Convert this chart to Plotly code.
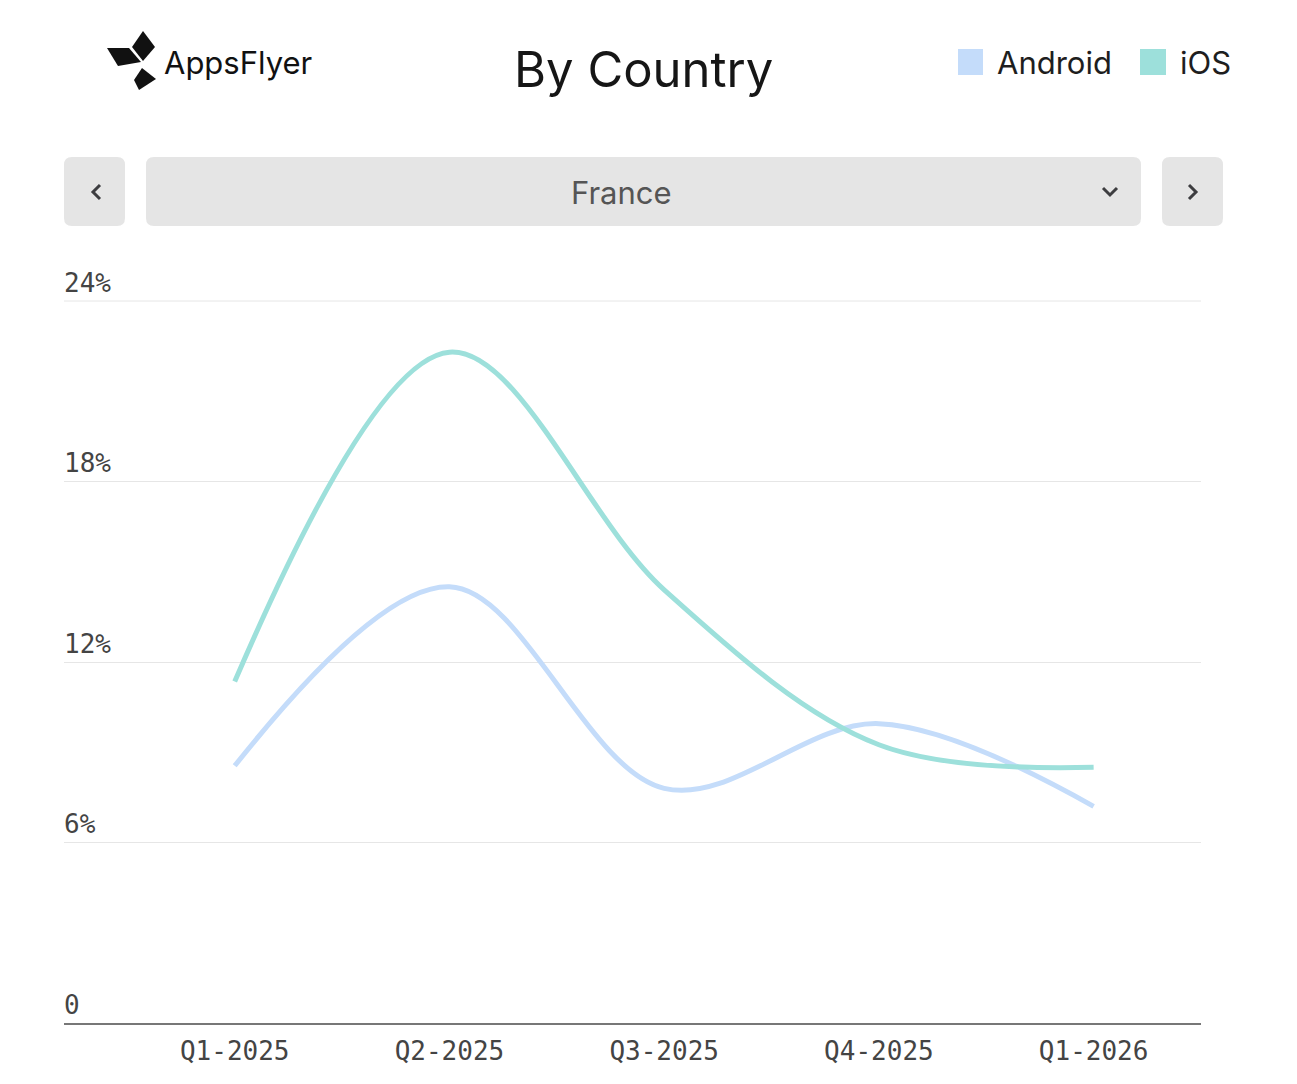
import plotly.graph_objects as go

# ---------------- data ----------------
quarters = ["Q1-2025", "Q2-2025", "Q3-2025", "Q4-2025", "Q1-2026"]
android = [8.55, 14.5, 7.8, 9.95, 7.2]
ios = [11.35, 22.3, 14.4, 9.25, 8.5]
y_tickvals = [0, 6, 12, 18, 24]
y_ticktext = ["0", "6%", "12%", "18%", "24%"]
country = "France"
title_text = "By Country"

ANDROID_COLOR = "#c4dcfa"
IOS_COLOR = "#9de0db"

W, H = 1297, 1084
L, R, T, B = 64, 1201, 300, 1023  # plot area in pixels


def px(x):
    return (x - L) / (R - L)


def py(y):
    return (B - y) / (B - T)


def poly(points):
    s = "M " + " L ".join(f"{px(x):.5f},{py(y):.5f}" for x, y in points) + " Z"
    return s


def rrect(x0, y0, x1, y1, r):
    pts = [
        ("M", x0 + r, y0), ("L", x1 - r, y0), ("Q", x1, y0, x1, y0 + r),
        ("L", x1, y1 - r), ("Q", x1, y1, x1 - r, y1), ("L", x0 + r, y1),
        ("Q", x0, y1, x0, y1 - r), ("L", x0, y0 + r), ("Q", x0, y0, x0 + r, y0),
    ]
    out = []
    for p in pts:
        if p[0] == "Q":
            out.append(f"Q {px(p[1]):.5f},{py(p[2]):.5f} {px(p[3]):.5f},{py(p[4]):.5f}")
        else:
            out.append(f"{p[0]} {px(p[1]):.5f},{py(p[2]):.5f}")
    return " ".join(out) + " Z"


def polyline(points):
    return "M " + " L ".join(f"{px(x):.5f},{py(y):.5f}" for x, y in points)


fig = go.Figure()
fig.add_trace(go.Scatter(
    x=quarters, y=android, name="Android", mode="lines",
    line=dict(color=ANDROID_COLOR, width=5, shape="spline", smoothing=1.0),
    showlegend=False,
))
fig.add_trace(go.Scatter(
    x=quarters, y=ios, name="iOS", mode="lines",
    line=dict(color=IOS_COLOR, width=5, shape="spline", smoothing=1.0),
    showlegend=False,
))

shapes = []
# dropdown row
for (x0, x1) in [(64, 125), (146, 1141), (1162, 1223)]:
    shapes.append(dict(type="path", xref="paper", yref="paper", path=rrect(x0, 157, x1, 226, 8),
                       fillcolor="#e5e5e5", line=dict(width=0), layer="above"))
# chevrons
chev = dict(type="path", xref="paper", yref="paper", line=dict(color="#3d3d40", width=3), layer="above")
shapes.append(dict(chev, path=polyline([(100, 185), (93, 192), (100, 199)])))
shapes.append(dict(chev, path=polyline([(1103, 188), (1110, 195), (1117, 188)])))
shapes.append(dict(chev, path=polyline([(1189, 185), (1196, 192), (1189, 199)])))
# top gridline (24%)
shapes.append(dict(type="line", xref="paper", yref="paper", x0=0, x1=1, y0=py(301), y1=py(301),
                   line=dict(color="#e6e6e6", width=1), layer="below"))
# legend squares
shapes.append(dict(type="rect", xref="paper", yref="paper", x0=px(958), x1=px(983), y0=py(75), y1=py(49),
                   fillcolor=ANDROID_COLOR, line=dict(width=0)))
shapes.append(dict(type="rect", xref="paper", yref="paper", x0=px(1140), x1=px(1166), y0=py(75), y1=py(49),
                   fillcolor=IOS_COLOR, line=dict(width=0)))
# logo mark
logo = dict(type="path", xref="paper", yref="paper", fillcolor="#111111", line=dict(width=0))
shapes.append(dict(logo, path=poly([(143, 31), (155, 47), (143, 61), (132, 47)])))
shapes.append(dict(logo, path=poly([(107, 48), (129, 48), (141, 62), (118, 66)])))
shapes.append(dict(logo, path=poly([(142, 68), (156, 79), (139, 90), (134, 80)])))

annotations = [
    dict(text=title_text, x=px(643), y=py(69), xref="paper", yref="paper", showarrow=False,
         font=dict(family="Inter", size=49, color="#161616"), xanchor="center", yanchor="middle"),
    dict(text="AppsFlyer", x=px(162), y=py(62), xref="paper", yref="paper", showarrow=False,
         font=dict(family="Inter", size=31, color="#111111"), xanchor="left", yanchor="middle"),
    dict(text="Android", x=px(995), y=py(62), xref="paper", yref="paper", showarrow=False,
         font=dict(family="Inter", size=31, color="#1e1e1e"), xanchor="left", yanchor="middle"),
    dict(text="iOS", x=px(1178), y=py(62), xref="paper", yref="paper", showarrow=False,
         font=dict(family="Inter", size=31, color="#1e1e1e"), xanchor="left", yanchor="middle"),
    dict(text=country, x=px(621), y=py(192), xref="paper", yref="paper", showarrow=False,
         font=dict(family="Inter", size=31, color="#555555"), xanchor="center", yanchor="middle"),
]

fig.update_layout(
    width=W, height=H,
    margin=dict(l=L, r=W - R, t=T, b=H - B, autoexpand=False),
    paper_bgcolor="white", plot_bgcolor="white",
    shapes=shapes, annotations=annotations,
    showlegend=False,
    xaxis=dict(
        type="category", range=[-0.795, 4.5], showgrid=False, zeroline=False,
        showline=True, linecolor="#777777", linewidth=2,
        ticks="outside", ticklen=4, tickcolor="rgba(0,0,0,0)",
        tickfont=dict(family="DejaVu Sans Mono", size=26, color="#444444"),
    ),
    yaxis=dict(
        range=[0, 24 * (B - T) / (B - 301)], tickvals=y_tickvals, ticktext=y_ticktext,
        showgrid=True, gridcolor="#e6e6e6", gridwidth=1, zeroline=False, showline=False,
        ticklabelposition="inside top", ticklabeloverflow="allow", ticklabelstandoff=-3,
        tickfont=dict(family="DejaVu Sans Mono", size=26, color="#444444"),
    ),
)

fig.write_html("out.html")
